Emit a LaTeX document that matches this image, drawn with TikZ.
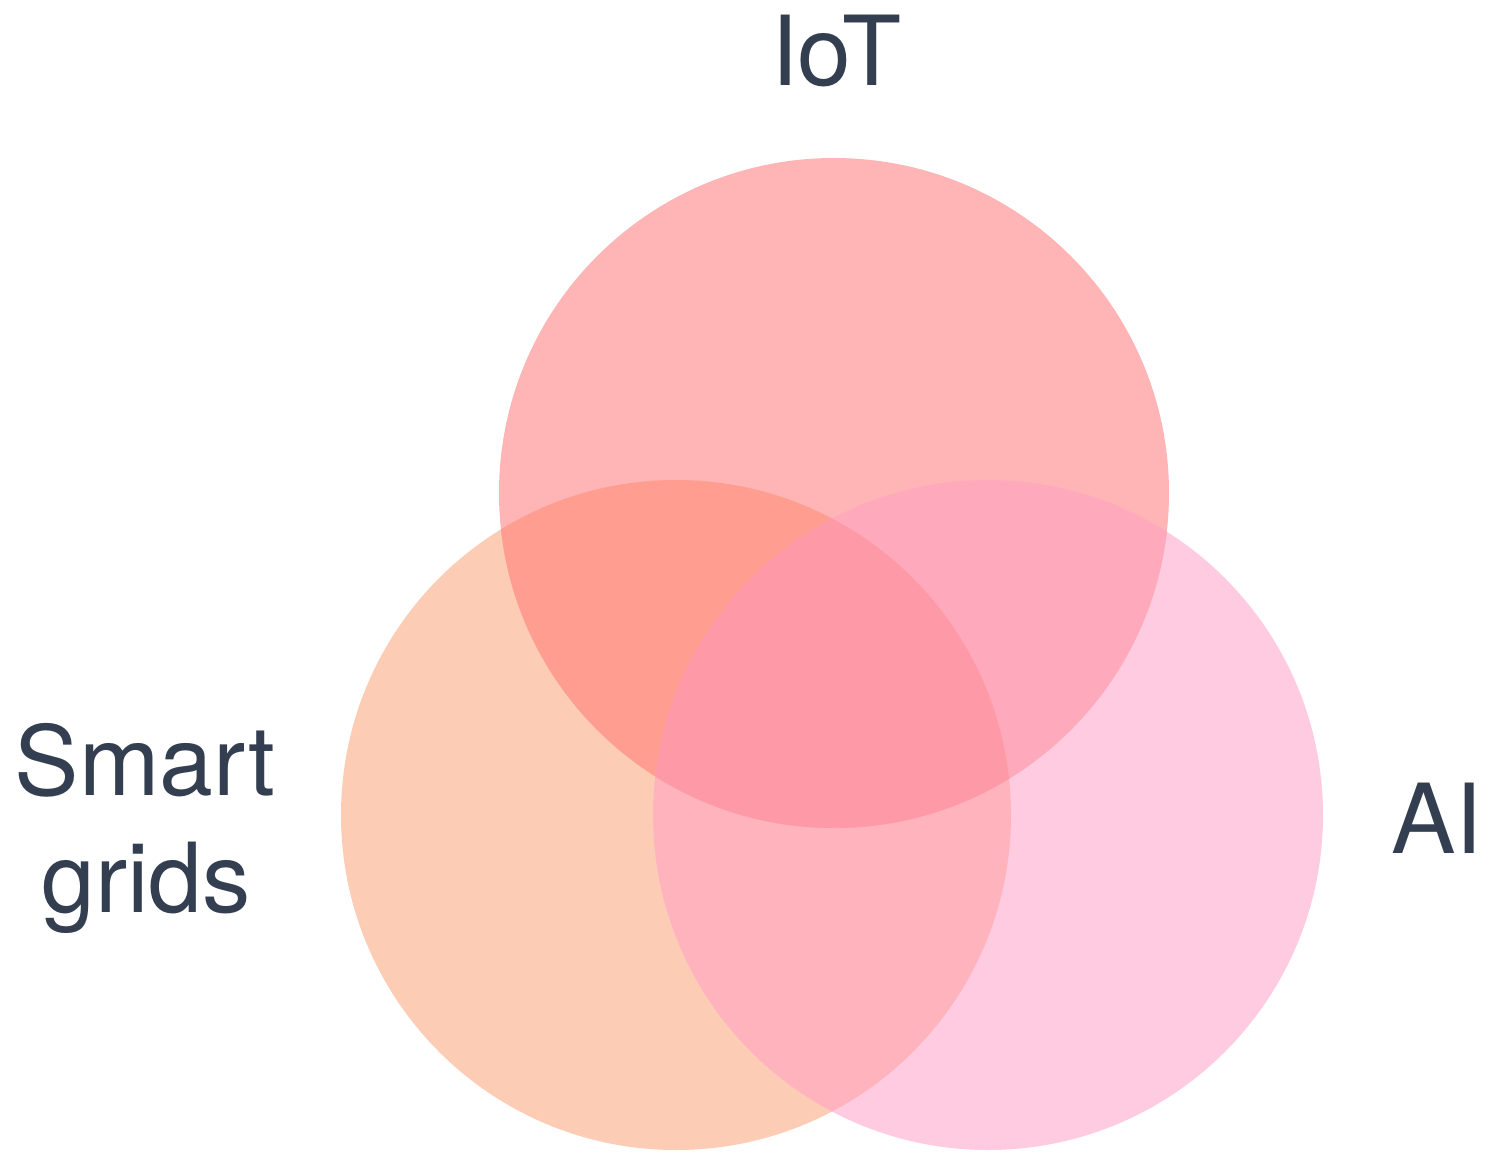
\documentclass[tikz,border=0pt]{standalone}
\usepackage{fontspec}
\setmainfont{TeX Gyre Heros}
\usepackage{tikz}
\definecolor{iotpink}{HTML}{FFB5B5}
\definecolor{gridpeach}{HTML}{FDCCB5}
\definecolor{aipink}{HTML}{FECBE0}
\definecolor{iotgrid}{HTML}{FE9D90}
\definecolor{iotai}{HTML}{FEA9BC}
\definecolor{gridai}{HTML}{FEB3BD}
\definecolor{allthree}{HTML}{FE9AA8}
\definecolor{labelgray}{HTML}{333F50}

\begin{document}
\begin{tikzpicture}[x=0.02cm,y=-0.02cm,
        setlabel/.style={text=labelgray,inner sep=0pt,anchor=base,font=\fontsize{55}{66}\selectfont}]
    \useasboundingbox (0,0) rectangle (1489,1153);
    % the three sets
    \def\iotcircle{(834,493) circle [radius=335]}
    \def\gridcircle{(676,815) circle [radius=335]}
    \def\aicircle{(988,815) circle [radius=335]}
    \fill[gridpeach] \gridcircle;
    \fill[aipink] \aicircle;
    \fill[iotpink] \iotcircle;
    % overlaps
    \begin{scope}
        \clip \gridcircle;
        \fill[gridai] \aicircle;
        \fill[iotgrid] \iotcircle;
    \end{scope}
    \begin{scope}
        \clip \aicircle;
        \fill[iotai] \iotcircle;
    \end{scope}
    \begin{scope}
        \clip \gridcircle;
        \clip \aicircle;
        \fill[allthree] \iotcircle;
    \end{scope}
    % labels
    \node[setlabel] (iot) at (836,85) {IoT};
    \node[setlabel] (smart) at (145,795) {Smart};
    \node[setlabel] (grids) at (146,912) {grids};
    \node[setlabel] (ai) at (1437,853) {AI};
\end{tikzpicture}
\end{document}
